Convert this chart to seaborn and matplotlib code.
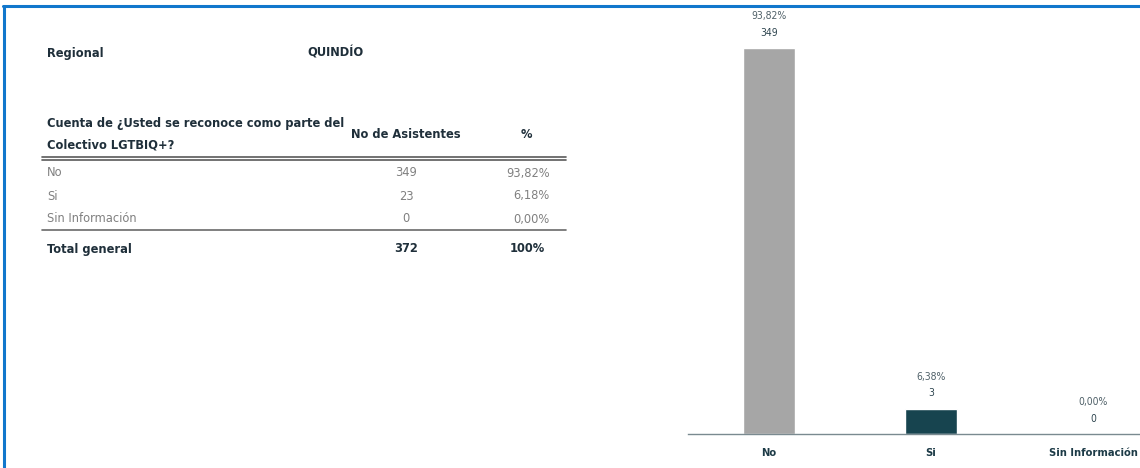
import matplotlib
matplotlib.use('Agg')
import matplotlib.pyplot as plt
from matplotlib.lines import Line2D
import pandas as pd
import seaborn as sns

# chart data
categories = ['No', 'Si', 'Sin Información']
bar_counts = [349, 23, 0]
bar_pct_labels = ['93,82%', '6,38%', '0,00%']
bar_count_labels = ['349', '3', '0']
bar_colors = ['#a6a6a6', '#17444f', '#a6a6a6']

# table data
table_counts = ['349', '23', '0']
table_pcts = ['93,82%', '6,18%', '0,00%']
total_count = '372'
total_pct = '100%'
regional = 'QUINDÍO'
question = 'Cuenta de ¿Usted se reconoce como parte del\nColectivo LGTBIQ+?'

W, H = 1140, 468
DARK = '#1f2f3a'
GREY = '#808080'

sns.set_style('white')
plt.rcParams['font.family'] = ['DejaVu Sans']
plt.rcParams['font.stretch'] = 'condensed'

fig = plt.figure(figsize=(W / 100, H / 100), dpi=100)
fig.patch.set_facecolor('white')

# table drawn on a full-figure axes in pixel coordinates
tax = fig.add_axes([0, 0, 1, 1])
tax.set_xlim(0, W)
tax.set_ylim(H, 0)
tax.axis('off')

FS = 9.2
tax.text(47, 53, 'Regional', fontsize=FS, fontweight='bold', color=DARK, va='center')
tax.text(307, 53, regional, fontsize=FS, fontweight='bold', color=DARK, va='center')
tax.text(47, 134, question, fontsize=FS, fontweight='bold', color=DARK, va='center',
         linespacing=1.85)
tax.text(406, 134, 'No de Asistentes', fontsize=FS, fontweight='bold', color=DARK,
         va='center', ha='center')
tax.text(526, 134, '%', fontsize=FS, fontweight='bold', color=DARK, va='center', ha='center')

tax.plot([42, 566], [157, 157], color='#5a5a5a', lw=1.2)
tax.plot([42, 566], [160, 160], color='#5a5a5a', lw=1.2)

row_y = [173, 196, 219]
for y, cat, cnt, pct in zip(row_y, categories, table_counts, table_pcts):
    tax.text(47, y, cat, fontsize=FS, color=GREY, va='center')
    tax.text(406, y, cnt, fontsize=FS, color=GREY, va='center', ha='center')
    tax.text(550, y, pct, fontsize=FS, color=GREY, va='center', ha='right')

tax.plot([42, 566], [230, 230], color='#6a6a6a', lw=1.2)
tax.text(47, 249, 'Total general', fontsize=FS, fontweight='bold', color=DARK, va='center')
tax.text(406, 249, total_count, fontsize=FS, fontweight='bold', color=DARK,
         va='center', ha='center')
tax.text(527, 249, total_pct, fontsize=FS, fontweight='bold', color=DARK,
         va='center', ha='center')

# blue frame (top and left edges)
fig.add_artist(Line2D([3 / W, 1], [1 - 5.5 / H, 1 - 5.5 / H], color='#1177cc', lw=2.2))
fig.add_artist(Line2D([4 / W, 4 / W], [0, 1 - 5.5 / H], color='#1177cc', lw=2.2))

# bar chart
left, right = 688, 1174
bottom, top = 434, 48
ax = fig.add_axes([left / W, 1 - bottom / H, (right - left) / W, (bottom - top) / H])
df = pd.DataFrame({'cat': categories, 'count': bar_counts})
sns.barplot(data=df, x='cat', y='count', hue='cat', palette=bar_colors, legend=False,
            width=0.315, ax=ax, saturation=1)
ax.set_xlim(-0.5, len(categories) - 0.5)
ax.set_ylim(0, max(bar_counts))
ax.set_xlabel('')
ax.set_ylabel('')
ax.set_yticks([])
for s in ['top', 'right', 'left']:
    ax.spines[s].set_visible(False)
ax.spines['bottom'].set_color('#7a8a90')
ax.spines['bottom'].set_linewidth(1.0)
ax.set_xticks(range(len(categories)))
ax.set_xticklabels(categories, fontsize=8, fontweight='bold', color='#1d3b47')
ax.tick_params(axis='x', which='major', length=0, pad=10)
ax.set_xticks([i - 0.5 for i in range(len(categories) + 1)], minor=True)
ax.tick_params(axis='x', which='minor', length=4, color='#7a8a90', width=1)
ax.patch.set_alpha(0)

for i, (v, p, c) in enumerate(zip(bar_counts, bar_pct_labels, bar_count_labels)):
    ax.annotate(p, (i, v), xytext=(0, 23), textcoords='offset points', ha='center',
                va='center', fontsize=7.5, color='#4f6068', annotation_clip=False)
    ax.annotate(c, (i, v), xytext=(0, 11), textcoords='offset points', ha='center',
                va='center', fontsize=7.5, color='#2f4650', annotation_clip=False)

fig.savefig('out.png', dpi=100)
